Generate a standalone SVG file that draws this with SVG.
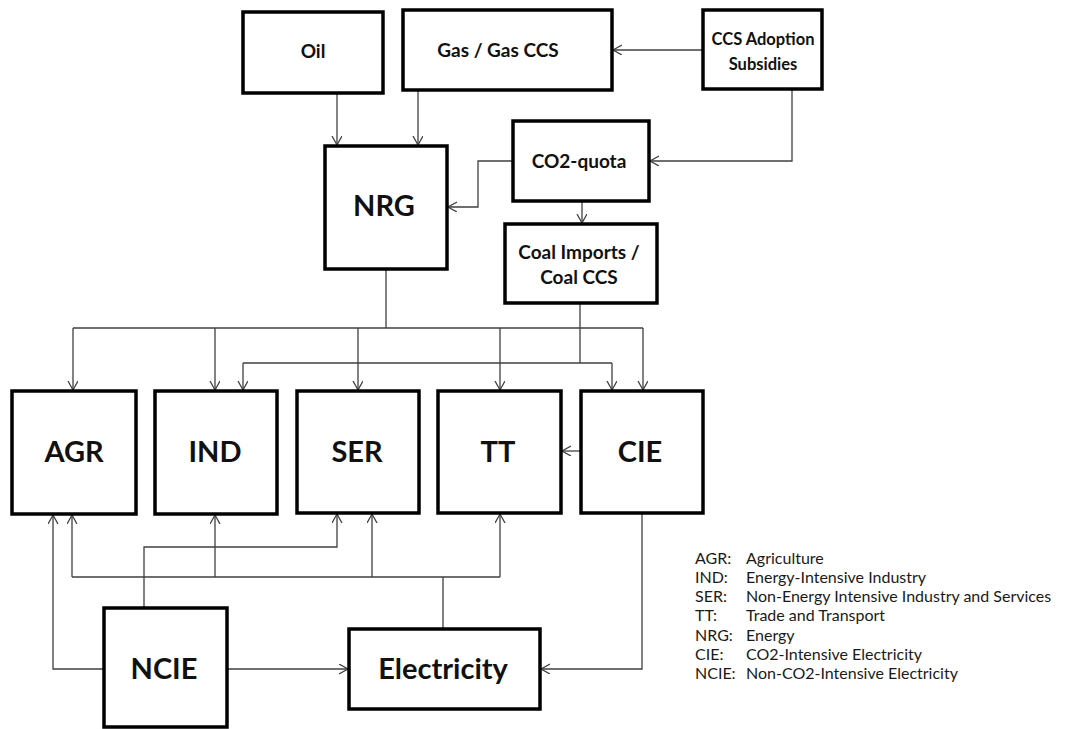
<svg xmlns="http://www.w3.org/2000/svg" width="1069" height="729" viewBox="0 0 1069 729">
<style>
.box{fill:#fff;stroke:#000;stroke-width:3.5}
.lbl{font-family:Lato,"Liberation Sans",sans-serif;font-weight:bold;fill:#111;text-anchor:middle}
.s{font-size:19px}
.t{font-size:16.5px}
.b{font-size:29px}
.c{fill:none;stroke:#404040;stroke-width:1.3}
.a{marker-end:url(#ah)}
.lg{font-family:Lato,"Liberation Sans",sans-serif;font-size:16px;fill:#1a1a1a}
</style>
<defs>
<marker id="ah" markerUnits="userSpaceOnUse" markerWidth="12" markerHeight="12" refX="9" refY="5" orient="auto">
<path d="M0,0 L9,5 L0,10" fill="none" stroke="#404040" stroke-width="1.3"/>
</marker>
</defs>
<rect width="1069" height="729" fill="#fff"/>
<g id="connectors">
<path class="c a" d="M337,93 V145"/>
<path class="c a" d="M418,90 V145"/>
<path class="c a" d="M703,50 H613"/>
<path class="c a" d="M792,89 V161 H650"/>
<path class="c a" d="M513,161 H478 V207 H448"/>
<path class="c a" d="M582,201 V223"/>
<path class="c" d="M386,269 V328 M73,328 H643"/>
<path class="c a" d="M73,328 V390"/>
<path class="c a" d="M215,328 V390"/>
<path class="c a" d="M358,328 V390"/>
<path class="c a" d="M500,328 V390"/>
<path class="c a" d="M643,328 V390"/>
<path class="c" d="M580,303 V363 M243,363 H612"/>
<path class="c a" d="M243,363 V390"/>
<path class="c a" d="M612,363 V390"/>
<path class="c a" d="M581,451 H562"/>
<path class="c a" d="M104,669 H53 V515"/>
<path class="c a" d="M144,608 V547 H337 V514"/>
<path class="c" d="M443,629 V577 M72,577 H500"/>
<path class="c a" d="M72,577 V515"/>
<path class="c a" d="M215,577 V515"/>
<path class="c a" d="M372,577 V514"/>
<path class="c a" d="M500,577 V514"/>
<path class="c a" d="M227,669 H348"/>
<path class="c a" d="M642,513 V669 H541"/>
</g>
<g id="oil"><rect class="box" x="243" y="12" width="140" height="81"/><text class="lbl s" x="313" y="58">Oil</text></g>
<g id="gas"><rect class="box" x="403" y="10" width="209" height="80"/><text class="lbl s" x="498" y="57">Gas / Gas CCS</text></g>
<g id="ccs"><rect class="box" x="703" y="10" width="119" height="79"/><text class="lbl t" x="763" y="45">CCS Adoption</text><text class="lbl t" x="763" y="70">Subsidies</text></g>
<g id="co2"><rect class="box" x="513" y="121" width="136" height="80"/><text class="lbl s" x="579" y="168">CO2-quota</text></g>
<g id="nrg"><rect class="box" x="325" y="146" width="122" height="123"/><text class="lbl b" x="384" y="216">NRG</text></g>
<g id="coal"><rect class="box" x="505" y="224" width="152" height="79"/><text class="lbl s" x="579" y="259">Coal Imports /</text><text class="lbl s" x="579" y="284">Coal CCS</text></g>
<g id="agr"><rect class="box" x="12" y="391" width="124" height="123"/><text class="lbl b" x="74" y="462">AGR</text></g>
<g id="ind"><rect class="box" x="155" y="391" width="122" height="123"/><text class="lbl b" x="215" y="462">IND</text></g>
<g id="ser"><rect class="box" x="297" y="391" width="122" height="122"/><text class="lbl b" x="357" y="462">SER</text></g>
<g id="tt"><rect class="box" x="438" y="391" width="123" height="122"/><text class="lbl b" x="498" y="462">TT</text></g>
<g id="cie"><rect class="box" x="581" y="391" width="122" height="122"/><text class="lbl b" x="640" y="462">CIE</text></g>
<g id="ncie"><rect class="box" x="104" y="608" width="123" height="119"/><text class="lbl b" x="164" y="679">NCIE</text></g>
<g id="electricity"><rect class="box" x="349" y="629" width="191" height="80"/><text class="lbl b" x="443" y="679">Electricity</text></g>
<g id="legend">
<text class="lg" x="695" y="564">AGR:</text><text class="lg" x="746" y="564">Agriculture</text>
<text class="lg" x="695" y="583">IND:</text><text class="lg" x="746" y="583">Energy-Intensive Industry</text>
<text class="lg" x="695" y="602">SER:</text><text class="lg" x="746" y="602">Non-Energy Intensive Industry and Services</text>
<text class="lg" x="695" y="621">TT:</text><text class="lg" x="746" y="621">Trade and Transport</text>
<text class="lg" x="695" y="641">NRG:</text><text class="lg" x="746" y="641">Energy</text>
<text class="lg" x="695" y="660">CIE:</text><text class="lg" x="746" y="660">CO2-Intensive Electricity</text>
<text class="lg" x="695" y="679">NCIE:</text><text class="lg" x="746" y="679">Non-CO2-Intensive Electricity</text>
</g>
</svg>
